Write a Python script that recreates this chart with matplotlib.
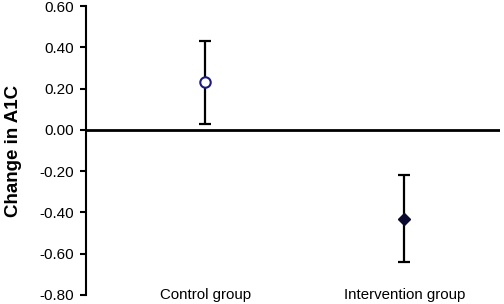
import matplotlib.pyplot as plt

plt.rcParams['font.family'] = ['Liberation Sans', 'DejaVu Sans']

# data
groups = ['Control group', 'Intervention group']
xpos = [1, 2]
change = [0.23, -0.43]
err_low = [0.03, -0.64]
err_high = [0.43, -0.22]
yticks = [-0.80, -0.60, -0.40, -0.20, 0.00, 0.20, 0.40, 0.60]

fig = plt.figure(figsize=(5.04, 3.04), dpi=100)
ax = fig.add_axes([86/504, 1 - 295/304, 414/504, 289/304])

ax.axhline(0, color='black', lw=2, zorder=1)

yerr = [[c - lo for c, lo in zip(change, err_low)],
        [hi - c for c, hi in zip(change, err_high)]]
ax.errorbar(xpos, change, yerr=yerr, fmt='none', ecolor='black',
            elinewidth=1.6, capsize=4, capthick=1.6, zorder=2)
ax.plot(xpos[0], change[0], 'o', ms=7.5, mfc='white', mec='#1a1a80',
        mew=1.5, zorder=3)
ax.plot(xpos[1], change[1], 'D', ms=6, mfc='#0a0a30', mec='#0a0a30',
        zorder=3)

ax.set_xlim(0.4, 2.48)
ax.set_ylim(-0.80, 0.60)
ax.set_yticks(yticks)
ax.set_yticklabels(['%.2f' % t for t in yticks], fontsize=11)
ax.tick_params(axis='y', direction='out', length=4.5, width=1.5, pad=4)
ax.set_xticks([])
for s in ['top', 'right', 'bottom']:
    ax.spines[s].set_visible(False)
ax.spines['left'].set_linewidth(1.5)

for x, g in zip(xpos, groups):
    ax.annotate(g, (x, -0.80), xytext=(0, 0), textcoords='offset points',
                ha='center', va='center', fontsize=10.8, annotation_clip=False)

ax.set_ylabel('Change in A1C', fontsize=13.5, fontweight='bold', labelpad=13)

fig.savefig('out.png', dpi=100)
